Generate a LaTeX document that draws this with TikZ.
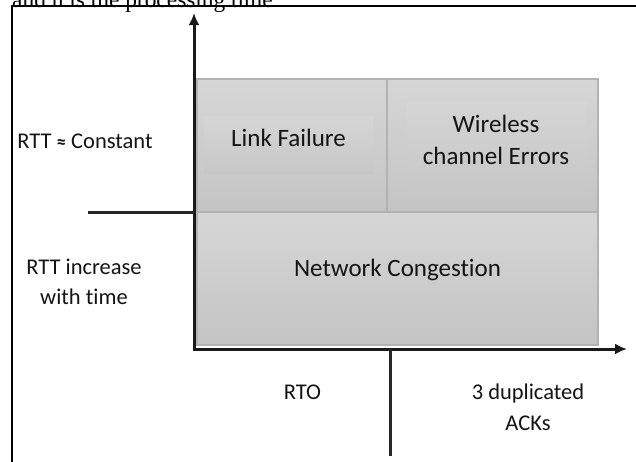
\documentclass[tikz,border=0pt]{standalone}
\usepackage{fontspec}
\setmainfont{Carlito}[Ligatures=CommonOff]
\newfontfamily\captionserif{Liberation Serif}
\usetikzlibrary{arrows.meta}

\definecolor{cellTop}{HTML}{D6D6D6}
\definecolor{cellBot}{HTML}{C4C4C4}
\definecolor{cellEdge}{HTML}{B2B2B2}
\definecolor{panelTop}{HTML}{D5D5D5}
\definecolor{panelBot}{HTML}{C7C7C7}
\definecolor{ink}{HTML}{141414}

\tikzset{
  cell/.style={rectangle, draw=cellEdge, line width=1.2pt, top color=cellTop, bottom color=cellBot, inner sep=0pt},
  panel/.style={rectangle, draw=none, top color=panelTop, bottom color=panelBot, inner sep=0pt},
  label/.style={font=\fontsize{25}{32}\selectfont, text=ink, align=center, inner sep=0pt},
  sidelabel/.style={font=\fontsize{22.5}{30.5}\selectfont, text=ink, align=center, inner sep=0pt},
  axis/.style={line width=3pt, draw=black!90, -{Latex[length=12pt,width=11pt]}},
  tick/.style={line width=3pt, draw=black!85},
  frame/.style={line width=2pt, draw=black}
}

\begin{document}
\begin{tikzpicture}[x=1pt, y=-1pt]
  \useasboundingbox (0,0) rectangle (636,461);
  \clip (0,0) rectangle (636,461);
  \fill[white] (0,0) rectangle (636,461);

  % caption line running into the top edge
  \node[anchor=base west, inner sep=0pt, font=\captionserif\fontsize{23.4}{28}\selectfont] (cap) at (12,7) {and n is the processing time};

  % outer frame (top and left rules)
  \coordinate (fTL) at (12,6);
  \coordinate (fTR) at (640,6);
  \coordinate (fBL) at (12,465);
  \draw[frame] (fTR) -- (fTL) -- (fBL);

  % shaded cells
  \node[cell, minimum width=190pt, minimum height=133pt] (lf) at (292,145.5) {};
  \node[cell, minimum width=211pt, minimum height=133pt] (we) at (492.5,145.5) {};
  \node[cell, minimum width=401pt, minimum height=133pt] (nc) at (397.5,278.5) {};

  % lighter text panels inside the upper cells
  \node[panel, minimum width=169pt, minimum height=57pt] (lfp) at (288.5,144.5) {};
  \node[panel, minimum width=180pt, minimum height=84pt] (wep) at (497,144) {};

  % cell texts
  \node[label] (lft) at (288.5,138) {Link Failure};
  \node[label] (wet) at (496,140) {Wireless\\channel Errors};
  \node[label] (nct) at (397.5,270) {Network Congestion};

  % axes
  \coordinate (O) at (194,349);
  \coordinate (ytip) at (194,13);
  \coordinate (xtip) at (627,349);
  \draw[axis] (194,350.5) -- (ytip);
  \draw[axis] (192.5,349) -- (xtip);

  % dividing ticks
  \coordinate (lt) at (88,212.5);
  \coordinate (lr) at (194,212.5);
  \draw[tick] (lt) -- (lr);
  \coordinate (bt) at (390.5,349);
  \coordinate (bb) at (390.5,456);
  \draw[tick] (bt) -- (bb);

  % axis region labels
  \node[sidelabel] (rttc) at (85,141) {RTT {\fontsize{19}{24}\selectfont\textbf{≈}} Constant};
  \node[sidelabel] (rtti) at (84,282) {RTT increase\\with time};
  \node[sidelabel] (rto) at (302.5,392) {RTO};
  \node[sidelabel] (dup) at (528,407.5) {3 duplicated\\ACKs};
\end{tikzpicture}
\end{document}
